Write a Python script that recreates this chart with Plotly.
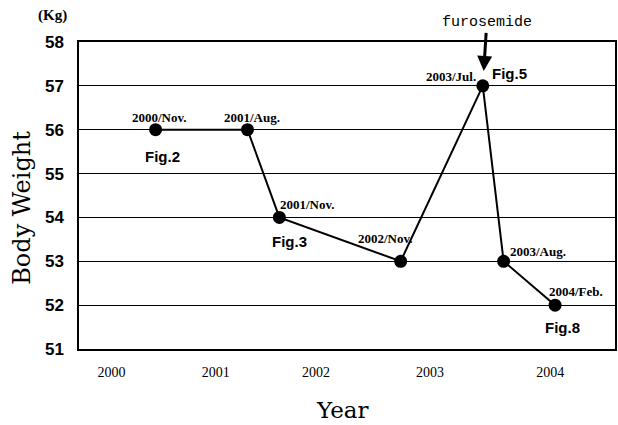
import plotly.graph_objects as go

# Data (x in decimal-year positions as drawn)
dates = ["2000/Nov.", "2001/Aug.", "2001/Nov.", "2002/Nov.", "2003/Jul.", "2003/Aug.", "2004/Feb."]
x_pos = [2000.82, 2001.57, 2001.83, 2002.82, 2003.49, 2003.66, 2004.08]
weight = [56, 56, 54, 53, 57, 53, 52]
year_ticks = [2000.46, 2001.31, 2002.13, 2003.06, 2004.04]
year_labels = ["2000", "2001", "2002", "2003", "2004"]
y_ticks = [51, 52, 53, 54, 55, 56, 57, 58]

fig = go.Figure()
fig.add_trace(go.Scatter(
    x=x_pos, y=weight, mode="lines+markers",
    line=dict(color="black", width=2),
    marker=dict(color="black", size=13),
    showlegend=False, hoverinfo="skip"))

serif = "Liberation Serif, Times New Roman, serif"
serif_wide = "DejaVu Serif, serif"
sans = "Liberation Sans, Arial, sans-serif"

# point date labels: (xanchor, xshift, yshift)
label_pos = [("center", 4, 12), ("center", 4, 12), ("left", -1, 13),
             ("right", 14, 23), ("right", -5, 9), ("left", 4, 10), ("left", -8, 14)]
for d, x, y, (xa, xs, ys) in zip(dates, x_pos, weight, label_pos):
    fig.add_annotation(x=x, y=y, text="<b>" + d + "</b>", showarrow=False,
                       xanchor=xa, yanchor="middle", xshift=xs, yshift=ys,
                       font=dict(family=serif, size=13, color="black"))

# Fig labels
fig_labels = [("Fig.2", 0, 7, -27), ("Fig.3", 2, 10, -24), ("Fig.5", 4, 27, 12), ("Fig.8", 6, 7, -22)]
for t, i, xs, ys in fig_labels:
    fig.add_annotation(x=x_pos[i], y=weight[i], text="<b>" + t + "</b>", showarrow=False,
                       xanchor="center", yanchor="middle", xshift=xs, yshift=ys,
                       font=dict(family=sans, size=15, color="black"))

# furosemide arrow
fig.add_annotation(x=x_pos[4], y=weight[4], text="furosemide", showarrow=True,
                   ax=4, ay=-63, arrowhead=2, arrowsize=1, arrowwidth=3,
                   arrowcolor="black", standoff=15,
                   font=dict(family="Liberation Mono, DejaVu Sans Mono, monospace", size=15, color="black"))

# (Kg)
fig.add_annotation(xref="paper", yref="paper", x=0, y=1, xshift=-27, yshift=27,
                   text="<b>(Kg)</b>", showarrow=False, xanchor="center", yanchor="middle",
                   font=dict(family=serif, size=15, color="black"))
# axis titles
fig.add_annotation(xref="paper", yref="paper", x=0, y=0.46, xshift=-57,
                   text="Body Weight", textangle=-90, showarrow=False,
                   xanchor="center", yanchor="middle",
                   font=dict(family=serif_wide, size=24, color="black"))
fig.add_annotation(xref="paper", yref="paper", x=0.492, y=0, yshift=-61,
                   text="Year", showarrow=False, xanchor="center", yanchor="middle",
                   font=dict(family=serif_wide, size=23, color="black"))

fig.update_layout(
    width=618, height=425,
    margin=dict(l=79, r=1, t=42, b=76),
    paper_bgcolor="white", plot_bgcolor="white",
    xaxis=dict(range=[2000.195, 2004.569], tickvals=year_ticks, ticktext=year_labels,
               showgrid=False, zeroline=False, showline=True, linecolor="black",
               linewidth=1.5, mirror=True, ticks="", ticklabelstandoff=9,
               tickfont=dict(family=serif, size=14, color="black")),
    yaxis=dict(range=[51, 58], tickvals=y_ticks, showgrid=True, gridcolor="black",
               gridwidth=1, zeroline=False, showline=True, linecolor="black",
               linewidth=1.5, mirror=True, ticks="", ticklabelstandoff=10,
               tickfont=dict(family=sans, size=17, color="black", weight="bold")),
)

fig.write_html("out.html", config={"displayModeBar": False},
               post_script="document.body.style.margin='0';")
